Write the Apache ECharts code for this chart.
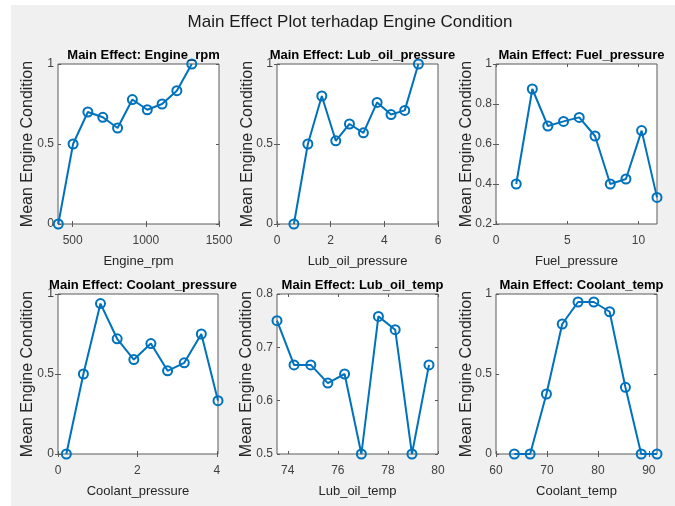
<!DOCTYPE html>
<html>
<head>
<meta charset="utf-8">
<script src="https://cdn.jsdelivr.net/npm/echarts@6/dist/echarts.min.js"></script>
<style>
html,body{margin:0;padding:0;background:#ffffff;}
#bg{position:absolute;left:11px;top:5px;width:664px;height:501px;background:#f0f0f0;}
#c{position:absolute;left:0;top:0;width:675px;height:506px;}
</style>
</head>
<body>
<div id="bg"></div>
<div id="c"></div>
<script>
// ---- data ----
const engineRpmX = [402, 503, 604, 706, 807, 908, 1010, 1111, 1212, 1314];
const engineRpmY = [0, 0.5, 0.7, 0.667, 0.6, 0.778, 0.714, 0.75, 0.833, 1.0];

const lubOilPressureX = [0.63, 1.15, 1.67, 2.19, 2.70, 3.22, 3.73, 4.25, 4.76, 5.27];
const lubOilPressureY = [0, 0.5, 0.8, 0.52, 0.625, 0.57, 0.76, 0.684, 0.71, 1.0];

const fuelPressureX = [1.42, 2.55, 3.64, 4.74, 5.84, 6.95, 8.02, 9.12, 10.22, 11.30];
const fuelPressureY = [0.4, 0.875, 0.69, 0.713, 0.733, 0.64, 0.4, 0.425, 0.667, 0.333];

const coolantPressureX = [0.21, 0.64, 1.07, 1.49, 1.91, 2.34, 2.76, 3.18, 3.61, 4.03];
const coolantPressureY = [0, 0.5, 0.94, 0.72, 0.59, 0.69, 0.52, 0.57, 0.75, 0.333];

const lubOilTempX = [73.57, 74.25, 74.92, 75.60, 76.27, 76.94, 77.62, 78.29, 78.96, 79.64];
const lubOilTempY = [0.75, 0.667, 0.667, 0.633, 0.65, 0.5, 0.758, 0.733, 0.5, 0.667];

const coolantTempX = [63.6, 66.7, 69.9, 73.0, 76.1, 79.2, 82.3, 85.4, 88.5, 91.6];
const coolantTempY = [0, 0, 0.375, 0.8125, 0.95, 0.95, 0.889, 0.417, 0, 0];

// tick labels
const rpmTicks = [500, 1000, 1500];
const lubOilPressureTicks = [0, 2, 4, 6];
const fuelPressureTicks = [0, 5, 10];
const coolantPressureTicks = [0, 2, 4];
const lubOilTempTicks = [74, 76, 78, 80];
const coolantTempTicks = [60, 70, 80, 90];
const yTicksUnit = [0, 0.5, 1];
const yTicksFuel = [0.2, 0.4, 0.6, 0.8, 1];
const yTicksLubTemp = [0.5, 0.6, 0.7, 0.8];

const mainTitle = 'Main Effect Plot terhadap Engine Condition';
const yName = 'Mean Engine Condition';
const varNames = ['Engine_rpm', 'Lub_oil_pressure', 'Fuel_pressure', 'Coolant_pressure', 'Lub_oil_temp', 'Coolant_temp'];

const panels = [
  {x: engineRpmX, y: engineRpmY, xMin: 400, xMax: 1500, xTicks: rpmTicks, yMin: 0, yMax: 1, yTicks: yTicksUnit},
  {x: lubOilPressureX, y: lubOilPressureY, xMin: 0, xMax: 6, xTicks: lubOilPressureTicks, yMin: 0, yMax: 1, yTicks: yTicksUnit},
  {x: fuelPressureX, y: fuelPressureY, xMin: 0, xMax: 11.30, xTicks: fuelPressureTicks, yMin: 0.2, yMax: 1, yTicks: yTicksFuel},
  {x: coolantPressureX, y: coolantPressureY, xMin: 0, xMax: 4.03, xTicks: coolantPressureTicks, yMin: 0, yMax: 1, yTicks: yTicksUnit},
  {x: lubOilTempX, y: lubOilTempY, xMin: 73.57, xMax: 80, xTicks: lubOilTempTicks, yMin: 0.5, yMax: 0.8, yTicks: yTicksLubTemp},
  {x: coolantTempX, y: coolantTempY, xMin: 60, xMax: 91.6, xTicks: coolantTempTicks, yMin: 0, yMax: 1, yTicks: yTicksUnit}
];

// ---- layout ----
const boxes = [
  [58, 64, 161, 160], [277, 64, 161, 160], [496, 64, 161, 160],
  [58, 294, 160, 160], [277, 294, 161, 160], [496, 294, 161, 160]
];
const yNameGaps = [22, 21, 21, 22, 22, 21];
const FONT = '"Liberation Sans", Arial, Helvetica, sans-serif';
const AX = '#5a5a5a';
const BLUE = '#0072BD';
const plain = v => String(+v.toFixed(4));

const grids = [], xAxes = [], yAxes = [], series = [];
const titles = [{
  text: mainTitle, left: 345, top: 9, textAlign: 'center',
  textStyle: {fontFamily: FONT, fontSize: 17, fontWeight: 'normal', color: '#1a1a1a'}
}];

panels.forEach((p, i) => {
  const b = boxes[i];
  grids.push({left: b[0], top: b[1], width: b[2], height: b[3], show: true,
    backgroundColor: '#ffffff', borderColor: AX, borderWidth: 1, outerBoundsMode: 'none'});
  titles.push({
    text: 'Main Effect: ' + varNames[i], left: b[0] + b[2] / 2, top: b[1] - 20, textAlign: 'center',
    textStyle: {fontFamily: FONT, fontSize: 13, fontWeight: 'bold', color: '#000'}
  });
  const tickStyle = {show: true, inside: true, length: 3, lineStyle: {color: AX, width: 1}};
  xAxes.push({
    type: 'value', gridIndex: i, position: 'bottom', min: p.xMin, max: p.xMax,
    axisLine: {show: false}, splitLine: {show: false},
    axisTick: Object.assign({customValues: p.xTicks}, tickStyle),
    axisLabel: {customValues: p.xTicks, margin: 11, color: '#404040', fontSize: 12, fontFamily: FONT,
      formatter: plain, showMinLabel: true, showMaxLabel: true},
    name: varNames[i], nameLocation: 'middle', nameGap: 31, nameMoveOverlap: false,
    nameTextStyle: {fontFamily: FONT, fontSize: 13, color: '#262626'}
  });
  xAxes.push({
    type: 'value', gridIndex: i, position: 'top', min: p.xMin, max: p.xMax,
    axisLine: {show: false}, splitLine: {show: false},
    axisTick: Object.assign({customValues: p.xTicks}, tickStyle),
    axisLabel: {show: false}
  });
  yAxes.push({
    type: 'value', gridIndex: i, position: 'left', min: p.yMin, max: p.yMax,
    axisLine: {show: false}, splitLine: {show: false},
    axisTick: Object.assign({customValues: p.yTicks}, tickStyle),
    axisLabel: {customValues: p.yTicks, margin: 4, color: '#404040', fontSize: 12, fontFamily: FONT,
      formatter: plain, showMinLabel: true, showMaxLabel: true},
    name: yName, nameLocation: 'middle', nameGap: yNameGaps[i], nameMoveOverlap: false,
    nameTextStyle: {fontFamily: FONT, fontSize: 16, color: '#262626'}
  });
  yAxes.push({
    type: 'value', gridIndex: i, position: 'right', min: p.yMin, max: p.yMax,
    axisLine: {show: false}, splitLine: {show: false},
    axisTick: Object.assign({customValues: p.yTicks}, tickStyle),
    axisLabel: {show: false}
  });
  series.push({
    type: 'line', xAxisIndex: 2 * i, yAxisIndex: 2 * i,
    data: p.x.map((v, j) => [v, p.y[j]]),
    symbol: 'circle', symbolSize: 9, showSymbol: true, clip: false,
    lineStyle: {color: BLUE, width: 2},
    itemStyle: {color: 'rgba(255,255,255,0)', borderColor: BLUE, borderWidth: 2},
    emphasis: {disabled: true}, silent: true, animation: false
  });
});

const chart = echarts.init(document.getElementById('c'), null, {renderer: 'canvas'});
chart.setOption({
  backgroundColor: 'transparent',
  animation: false,
  title: titles,
  grid: grids,
  xAxis: xAxes,
  yAxis: yAxes,
  series: series
});
</script>
</body>
</html>
